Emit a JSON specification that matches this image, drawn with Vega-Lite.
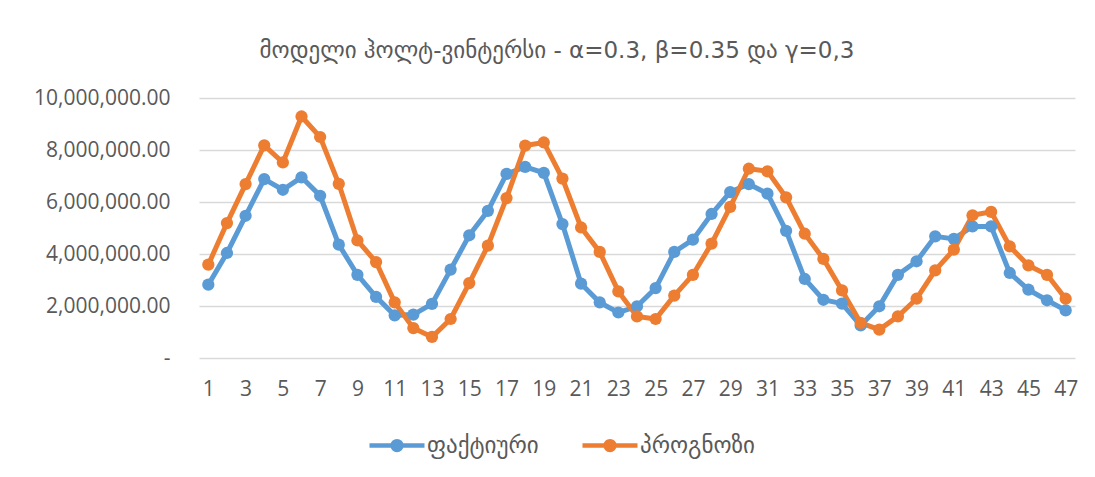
{
  "$schema": "https://vega.github.io/schema/vega-lite/v6.json",
  "width": 876,
  "height": 260,
  "autosize": {"type": "none"},
  "padding": {"left": 199, "top": 98, "right": 20, "bottom": 119},
  "background": "white",
  "title": {
    "text": "მოდელი ჰოლტ-ვინტერსი - α=0.3, β=0.35 და γ=0,3",
    "font": "DejaVu Sans",
    "fontSize": 23,
    "fontWeight": "normal",
    "color": "#595959",
    "anchor": "middle",
    "frame": "group",
    "dx": -80,
    "offset": 24
  },
  "config": {
    "view": {"stroke": null},
    "axis": {"labelColor": "#595959", "labelFont": "Open Sans", "labelFontSize": 21, "ticks": false, "tickSize": 0, "domain": false, "title": null}
  },
  "data": {
    "values": [
      {"t": 1, "s": "ფაქტიური", "v": 2820000}, {"t": 2, "s": "ფაქტიური", "v": 4040000}, {"t": 3, "s": "ფაქტიური", "v": 5470000},
      {"t": 4, "s": "ფაქტიური", "v": 6880000}, {"t": 5, "s": "ფაქტიური", "v": 6470000}, {"t": 6, "s": "ფაქტიური", "v": 6950000},
      {"t": 7, "s": "ფაქტიური", "v": 6240000}, {"t": 8, "s": "ფაქტიური", "v": 4360000}, {"t": 9, "s": "ფაქტიური", "v": 3200000},
      {"t": 10, "s": "ფაქტიური", "v": 2350000}, {"t": 11, "s": "ფაქტიური", "v": 1640000}, {"t": 12, "s": "ფაქტიური", "v": 1670000},
      {"t": 13, "s": "ფაქტიური", "v": 2080000}, {"t": 14, "s": "ფაქტიური", "v": 3400000}, {"t": 15, "s": "ფაქტიური", "v": 4720000},
      {"t": 16, "s": "ფაქტიური", "v": 5660000}, {"t": 17, "s": "ფაქტიური", "v": 7080000}, {"t": 18, "s": "ფაქტიური", "v": 7350000},
      {"t": 19, "s": "ფაქტიური", "v": 7120000}, {"t": 20, "s": "ფაქტიური", "v": 5150000}, {"t": 21, "s": "ფაქტიური", "v": 2860000},
      {"t": 22, "s": "ფაქტიური", "v": 2140000}, {"t": 23, "s": "ფაქტიური", "v": 1750000}, {"t": 24, "s": "ფაქტიური", "v": 1990000},
      {"t": 25, "s": "ფაქტიური", "v": 2690000}, {"t": 26, "s": "ფაქტიური", "v": 4080000}, {"t": 27, "s": "ფაქტიური", "v": 4550000},
      {"t": 28, "s": "ფაქტიური", "v": 5540000}, {"t": 29, "s": "ფაქტიური", "v": 6380000}, {"t": 30, "s": "ფაქტიური", "v": 6690000},
      {"t": 31, "s": "ფაქტიური", "v": 6320000}, {"t": 32, "s": "ფაქტიური", "v": 4890000}, {"t": 33, "s": "ფაქტიური", "v": 3040000},
      {"t": 34, "s": "ფაქტიური", "v": 2240000}, {"t": 35, "s": "ფაქტიური", "v": 2090000}, {"t": 36, "s": "ფაქტიური", "v": 1250000},
      {"t": 37, "s": "ფაქტიური", "v": 1990000}, {"t": 38, "s": "ფაქტიური", "v": 3200000}, {"t": 39, "s": "ფაქტიური", "v": 3720000},
      {"t": 40, "s": "ფაქტიური", "v": 4680000}, {"t": 41, "s": "ფაქტიური", "v": 4580000}, {"t": 42, "s": "ფაქტიური", "v": 5060000},
      {"t": 43, "s": "ფაქტიური", "v": 5060000}, {"t": 44, "s": "ფაქტიური", "v": 3270000}, {"t": 45, "s": "ფაქტიური", "v": 2630000},
      {"t": 46, "s": "ფაქტიური", "v": 2220000}, {"t": 47, "s": "ფაქტიური", "v": 1830000},
      {"t": 1, "s": "პროგნოზი", "v": 3590000}, {"t": 2, "s": "პროგნოზი", "v": 5190000}, {"t": 3, "s": "პროგნოზი", "v": 6690000},
      {"t": 4, "s": "პროგნოზი", "v": 8180000}, {"t": 5, "s": "პროგნოზი", "v": 7520000}, {"t": 6, "s": "პროგნოზი", "v": 9290000},
      {"t": 7, "s": "პროგნოზი", "v": 8500000}, {"t": 8, "s": "პროგნოზი", "v": 6700000}, {"t": 9, "s": "პროგნოზი", "v": 4520000},
      {"t": 10, "s": "პროგნოზი", "v": 3690000}, {"t": 11, "s": "პროგნოზი", "v": 2140000}, {"t": 12, "s": "პროგნოზი", "v": 1150000},
      {"t": 13, "s": "პროგნოზი", "v": 810000}, {"t": 14, "s": "პროგნოზი", "v": 1500000}, {"t": 15, "s": "პროგნოზი", "v": 2880000},
      {"t": 16, "s": "პროგნოზი", "v": 4320000}, {"t": 17, "s": "პროგნოზი", "v": 6150000}, {"t": 18, "s": "პროგნოზი", "v": 8170000},
      {"t": 19, "s": "პროგნოზი", "v": 8290000}, {"t": 20, "s": "პროგნოზი", "v": 6900000}, {"t": 21, "s": "პროგნოზი", "v": 5020000},
      {"t": 22, "s": "პროგნოზი", "v": 4080000}, {"t": 23, "s": "პროგნოზი", "v": 2560000}, {"t": 24, "s": "პროგნოზი", "v": 1600000},
      {"t": 25, "s": "პროგნოზი", "v": 1500000}, {"t": 26, "s": "პროგნოზი", "v": 2400000}, {"t": 27, "s": "პროგნოზი", "v": 3200000},
      {"t": 28, "s": "პროგნოზი", "v": 4400000}, {"t": 29, "s": "პროგნოზი", "v": 5810000}, {"t": 30, "s": "პროგნოზი", "v": 7280000},
      {"t": 31, "s": "პროგნოზი", "v": 7180000}, {"t": 32, "s": "პროგნოზი", "v": 6180000}, {"t": 33, "s": "პროგნოზი", "v": 4780000},
      {"t": 34, "s": "პროგნოზი", "v": 3810000}, {"t": 35, "s": "პროგნოზი", "v": 2600000}, {"t": 36, "s": "პროგნოზი", "v": 1350000},
      {"t": 37, "s": "პროგნოზი", "v": 1090000}, {"t": 38, "s": "პროგნოზი", "v": 1600000}, {"t": 39, "s": "პროგნოზი", "v": 2280000},
      {"t": 40, "s": "პროგნოზი", "v": 3370000}, {"t": 41, "s": "პროგნოზი", "v": 4170000}, {"t": 42, "s": "პროგნოზი", "v": 5490000},
      {"t": 43, "s": "პროგნოზი", "v": 5620000}, {"t": 44, "s": "პროგნოზი", "v": 4290000}, {"t": 45, "s": "პროგნოზი", "v": 3560000},
      {"t": 46, "s": "პროგნოზი", "v": 3200000}, {"t": 47, "s": "პროგნოზი", "v": 2280000}
    ]
  },
  "mark": {"type": "line", "strokeWidth": 5, "point": {"filled": true, "size": 150}},
  "encoding": {
    "x": {
      "field": "t",
      "type": "quantitative",
      "scale": {"domain": [0.5, 47.5], "nice": false, "zero": false},
      "axis": {"grid": false, "labelPadding": 20, "values": [1,3,5,7,9,11,13,15,17,19,21,23,25,27,29,31,33,35,37,39,41,43,45,47], "labelFlush": false, "labelOverlap": false}
    },
    "y": {
      "field": "v",
      "type": "quantitative",
      "scale": {"domain": [0, 10000000], "nice": false},
      "axis": {
        "grid": true,
        "gridColor": "#D9D9D9",
        "gridWidth": 1.5,
        "values": [0, 2000000, 4000000, 6000000, 8000000, 10000000],
        "labelPadding": 29,
        "labelExpr": "datum.value == 0 ? '-\u00a0\u00a0\u00a0' : format(datum.value, ',.2f')"
      }
    },
    "color": {
      "field": "s",
      "type": "nominal",
      "scale": {"domain": ["ფაქტიური", "პროგნოზი"], "range": ["#5B9BD5", "#ED7D31"]},
      "legend": {
        "title": null,
        "orient": "none",
        "direction": "horizontal",
        "legendX": 184.5,
        "legendY": 334,
        "padding": 0,
        "symbolType": "M-2.5,0L2.5,0M-0.4,0A0.4,0.4,0,1,1,0.4,0A0.4,0.4,0,1,1,-0.4,0",
        "symbolSize": 484,
        "symbolStrokeWidth": 4.5,
        "labelOffset": 16.5,
        "labelFont": "DejaVu Sans",
        "labelFontSize": 23,
        "labelColor": "#595959",
        "columnPadding": 34,
        "encode": {
          "symbols": {"update": {"fill": {"scale": "color", "field": "value"}, "stroke": {"scale": "color", "field": "value"}, "opacity": {"value": 1}}}
        }
      }
    }
  }
}
